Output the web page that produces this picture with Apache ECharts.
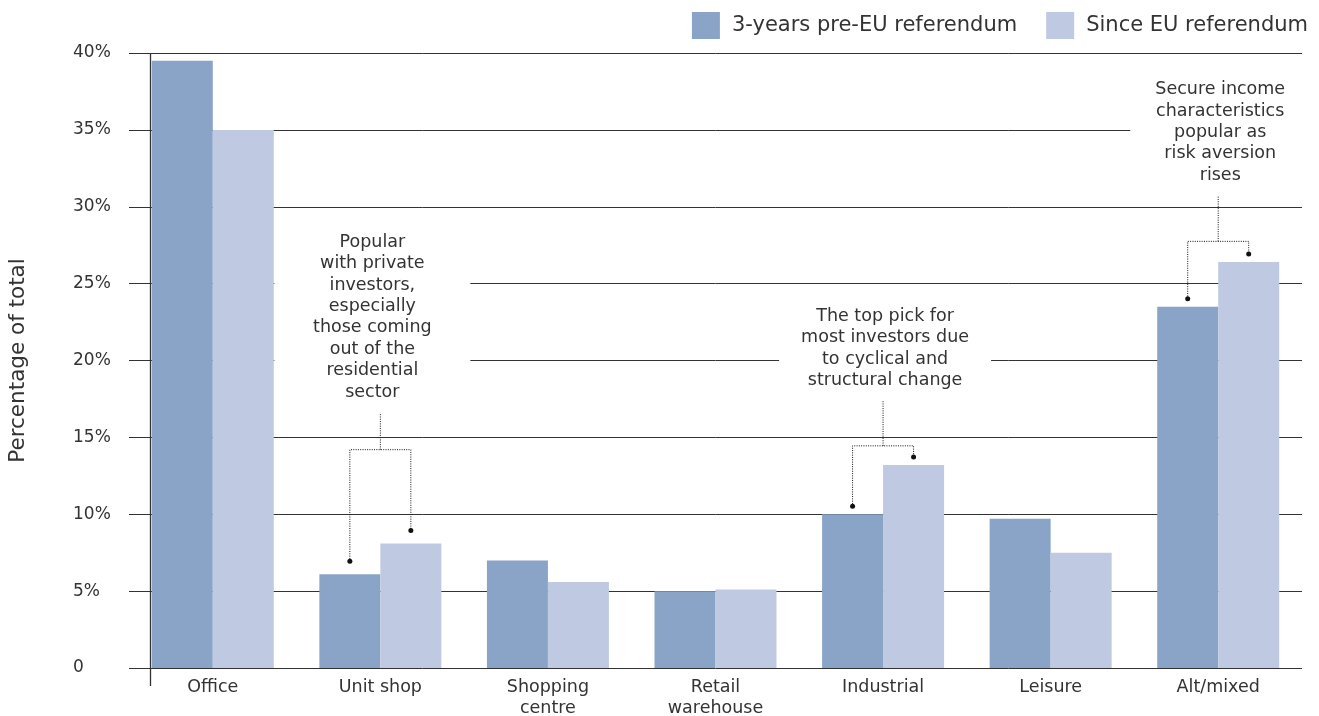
<!DOCTYPE html>
<html><head><meta charset="utf-8">
<script src="https://cdn.jsdelivr.net/npm/echarts@6/dist/echarts.min.js"></script>
<style>html,body{margin:0;padding:0;background:#fff}#c{width:1319px;height:716px}</style>
</head><body><div id="c"></div>
<script>
// ---- data ----
const categories = ['Office', 'Unit shop', 'Shopping\ncentre', 'Retail\nwarehouse', 'Industrial', 'Leisure', 'Alt/mixed'];
const seriesNames = ['3-years pre-EU referendum', 'Since EU referendum'];
const preReferendum = [39.5, 6.1, 7.0, 5.0, 10.0, 9.7, 23.5];
const sinceReferendum = [35.0, 8.1, 5.6, 5.1, 13.2, 7.5, 26.4];
const yAxisMax = 40;
const yAxisStep = 5;
const annotationCategoryIndex = [1, 4, 6];
const annotationTexts = [
  'Popular\nwith private\ninvestors,\nespecially\nthose coming\nout of the\nresidential\nsector',
  'The top pick for\nmost investors due\nto cyclical and\nstructural change',
  'Secure income\ncharacteristics\npopular as\nrisk aversion\nrises'
];
const annotationBracketLevel = [14.2, 14.45, 27.75];
const annotationStemTop = [16.6, 17.35, 30.7];

// ---- layout / style (not data) ----
const FONT = 'DejaVu Sans';
const TEXT_COLOR = '#333';
const PRE_COLOR = '#8AA4C7';
const SINCE_COLOR = '#BFC9E1';
const BAR_W = 61;
const annotationLayout = [
  { dx: -8, boxW: 196, dotGap: 13 },
  { dx: 2, boxW: 212, dotGap: 8 },
  { dx: 2, boxW: 180, dotGap: 8 }
];

const chart = echarts.init(document.getElementById('c'), null, { renderer: 'canvas' });

const annotationData = annotationCategoryIndex.map((ci, i) => [
  ci, preReferendum[ci], sinceReferendum[ci], annotationBracketLevel[i], annotationStemTop[i]
]);

function renderAnnotation(params, api) {
  const i = params.dataIndex;
  const lay = annotationLayout[i];
  const ci = api.value(0);
  const cx = api.coord([ci, 0])[0];
  const xPre = cx - BAR_W / 2, xSince = cx + BAR_W / 2;
  const yPre = api.coord([ci, api.value(1)])[1] - lay.dotGap;
  const ySince = api.coord([ci, api.value(2)])[1] - lay.dotGap;
  const yBr = api.coord([ci, api.value(3)])[1];
  const yStem = api.coord([ci, api.value(4)])[1];
  const lineH = 21.4;
  const text = annotationTexts[i];
  const nLines = text.split('\n').length;
  const textBottom = yStem - 10;
  const textTop = textBottom - nLines * lineH;
  const tx = cx + lay.dx;
  const dash = { stroke: '#111', lineWidth: 1, lineDash: [1, 1.3] };
  return {
    type: 'group',
    children: [
      { type: 'rect', shape: { x: tx - lay.boxW / 2, y: textTop - 2, width: lay.boxW, height: nLines * lineH + 4 }, style: { fill: '#fff' } },
      { type: 'text', style: { text: text, x: tx, y: textBottom, align: 'center', verticalAlign: 'bottom', fontSize: 17.5, fontFamily: FONT, lineHeight: lineH, fill: TEXT_COLOR } },
      { type: 'polyline', shape: { points: [[xPre, yPre], [xPre, yBr], [xSince, yBr], [xSince, ySince]] }, style: Object.assign({ fill: null }, dash) },
      { type: 'line', shape: { x1: cx, y1: yBr, x2: cx, y2: yStem }, style: dash },
      { type: 'circle', shape: { cx: xPre, cy: yPre, r: 2.5 }, style: { fill: '#111' } },
      { type: 'circle', shape: { cx: xSince, cy: ySince, r: 2.5 }, style: { fill: '#111' } }
    ]
  };
}

chart.setOption({
  animation: false,
  textStyle: { fontFamily: FONT },
  legend: {
    top: 12, right: 11, itemWidth: 28, itemHeight: 27, itemGap: 29, padding: 0,
    icon: 'rect',
    data: seriesNames,
    textStyle: { fontSize: 21, color: TEXT_COLOR, fontFamily: FONT, padding: [0, 0, 0, 7] }
  },
  grid: { left: 129, right: 17, top: 53, bottom: 48, containLabel: false, outerBoundsMode: 'none' },
  xAxis: {
    type: 'category', data: categories,
    axisLine: { show: false }, axisTick: { show: false },
    axisLabel: { fontSize: 17.5, color: TEXT_COLOR, lineHeight: 21, margin: 9, fontFamily: FONT, interval: 0 }
  },
  yAxis: {
    type: 'value', min: 0, max: yAxisMax, interval: yAxisStep,
    name: 'Percentage of total', nameLocation: 'middle', nameGap: 100,
    nameTextStyle: { fontSize: 21.5, color: TEXT_COLOR, fontFamily: FONT },
    axisLine: { show: false }, axisTick: { show: false },
    axisLabel: { fontSize: 17, color: TEXT_COLOR, margin: 56, align: 'left', fontFamily: FONT, formatter: v => v === 0 ? '0' : v + '%' },
    splitLine: { lineStyle: { color: '#333', width: 1 } }
  },
  series: [
    { name: seriesNames[0], type: 'bar', data: preReferendum, barWidth: BAR_W, barGap: '0%', itemStyle: { color: PRE_COLOR }, z: 3 },
    { name: seriesNames[1], type: 'bar', data: sinceReferendum, barWidth: BAR_W, barGap: '0%', itemStyle: { color: SINCE_COLOR }, z: 3 },
    { type: 'custom', renderItem: renderAnnotation, data: annotationData, encode: { x: 0, y: [1, 2, 3, 4] }, z: 4, silent: true }
  ]
});

// vertical axis line (decoration), offset right of grid left edge, extends below baseline
const yTop = chart.convertToPixel({ yAxisIndex: 0 }, yAxisMax);
const yBase = chart.convertToPixel({ yAxisIndex: 0 }, 0);
chart.setOption({
  graphic: [{ type: 'line', shape: { x1: 150.5, y1: yTop, x2: 150.5, y2: yBase + 18 }, style: { stroke: '#333', lineWidth: 1.3 }, z: 10 }]
});
</script></body></html>
